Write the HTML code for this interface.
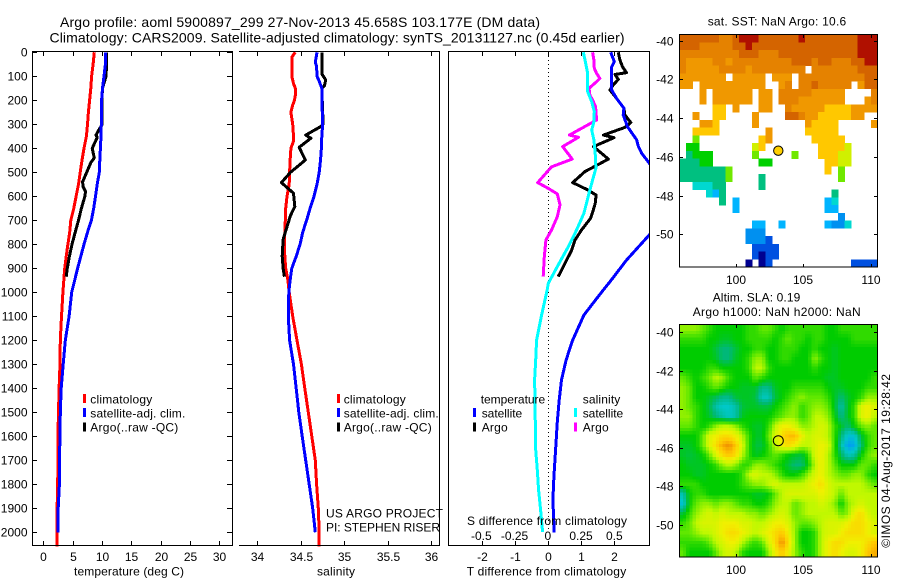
<!DOCTYPE html>
<html lang="en">
<head>
<meta charset="utf-8">
<title>Argo profile chart</title>
<style>
html,body{margin:0;padding:0;background:#fff;}
svg{display:block;}
text{font-family:"Liberation Sans",sans-serif;font-size:12px;fill:#000;}
</style>
</head>
<body>
<svg id="chart" xmlns="http://www.w3.org/2000/svg" width="900" height="580" viewBox="0 0 900 580">
<defs>
<clipPath id="clip-diff"><rect x="449" y="52" width="200" height="493"/></clipPath>
<clipPath id="clip-sst"><rect x="679.5" y="34.5" width="198" height="232.5"/></clipPath>
<clipPath id="clip-sla"><rect x="679.5" y="324.5" width="198" height="232.5"/></clipPath>
</defs>
<rect width="900" height="580" fill="#fff"/>

<text x="60" y="27" textLength="480" font-size="14" style="font-size:14px">Argo profile: aoml 5900897_299 27-Nov-2013 45.658S 103.177E (DM data)</text>
<text x="49.5" y="42.7" textLength="575" style="font-size:14px">Climatology: CARS2009. Satellite-adjusted climatology: synTS_20131127.nc (0.45d earlier)</text>

<g id="sst-cells" clip-path="url(#clip-sst)"></g>
<g id="sla-cells" clip-path="url(#clip-sla)"></g>

<g id="temp-lines"></g>
<g id="sal-lines"></g>
<line x1="548.5" y1="52" x2="548.5" y2="530" stroke="#000" stroke-width="1" stroke-dasharray="1 3"/>
<g id="diff-lines" clip-path="url(#clip-diff)"></g>

<g fill="none" stroke="#000" stroke-width="1" shape-rendering="crispEdges">
<path d="M32.5 51.5H232.5V545.5H32.5Z"/>
<path d="M239 51.5H439.5V545.5H239"/>
<path d="M448.5 51.5H649.5V545.5H448.5Z"/>
<path d="M679.5 34.5H877.5V267H679.5Z"/>
<path d="M679.5 324.5H877.5V557H679.5Z"/>
</g>
<g id="axes"></g>

<text x="74" y="575.7" textLength="110">temperature (deg C)</text>
<text x="317" y="575.7" textLength="38">salinity</text>
<text x="466.7" y="575.7" textLength="159.5">T difference from climatology</text>
<text x="467" y="525" textLength="160">S difference from climatology</text>

<g>
<rect x="83" y="394" width="3" height="9" fill="#f00"/>
<rect x="83" y="408" width="3" height="9" fill="#00f"/>
<rect x="83" y="422.5" width="3" height="9" fill="#000"/>
<text x="90.3" y="403.3" textLength="62">climatology</text>
<text x="90.3" y="417.3" textLength="95">satellite-adj. clim.</text>
<text x="90.3" y="431.3" textLength="88">Argo(..raw -QC)</text>
</g>
<g>
<rect x="337" y="394" width="3" height="9" fill="#f00"/>
<rect x="337" y="408" width="3" height="9" fill="#00f"/>
<rect x="337" y="422.5" width="3" height="9" fill="#000"/>
<text x="343.7" y="403.3" textLength="62">climatology</text>
<text x="343.7" y="417.3" textLength="95">satellite-adj. clim.</text>
<text x="343.7" y="431.3" textLength="88">Argo(..raw -QC)</text>
</g>
<text x="326" y="517.3" textLength="117">US ARGO PROJECT</text>
<text x="326" y="531.7" textLength="114">PI: STEPHEN RISER</text>

<g>
<text x="480.7" y="403.3" textLength="64.5">temperature</text>
<rect x="473" y="408" width="3" height="9" fill="#00f"/>
<rect x="473" y="422.5" width="3" height="9" fill="#000"/>
<text x="481.7" y="417.3" textLength="40.5">satellite</text>
<text x="481.7" y="431.3" textLength="26">Argo</text>
<text x="582.7" y="403.3" textLength="37.6">salinity</text>
<rect x="574" y="408" width="3" height="9" fill="#0ff"/>
<rect x="574" y="422.5" width="3" height="9" fill="#f0f"/>
<text x="582.7" y="417.3" textLength="40.5">satellite</text>
<text x="582.7" y="431.3" textLength="26">Argo</text>
</g>

<text x="707.7" y="25.7" textLength="138.5">sat. SST: NaN Argo: 10.6</text>
<text x="712.7" y="301.7" textLength="87.6">Altim. SLA: 0.19</text>
<text x="692.7" y="316" textLength="168">Argo h1000: NaN h2000: NaN</text>
<circle cx="778.3" cy="150.7" r="4.7" fill="#ffd000" stroke="#000" stroke-width="1"/>
<circle cx="778.3" cy="440.7" r="5" fill="none" stroke="#000" stroke-width="1"/>
<text transform="translate(890 547.7) rotate(-90)" textLength="173.7">©IMOS 04-Aug-2017 19:28:42</text>
</svg>

<script>
// ---- profile data ----
const tempClimDepths = [0,50,100,150,200,250,300,350,400,450,500,550,600,650,700,750,800,850,900,950,1000,1100,1200,1300,1400,1500,1600,1700,1800,1900,2000,2060];
const tempClimValues = [8.7,8.5,8.25,8.1,7.9,7.7,7.55,7.35,6.95,6.6,6.3,6.0,5.6,5.2,4.7,4.5,4.2,3.9,3.65,3.5,3.35,3.1,2.9,2.85,2.7,2.6,2.5,2.5,2.45,2.35,2.35,2.35];
const tempSatDepths = [0,50,100,150,200,250,300,350,400,450,500,550,600,650,700,750,800,850,900,950,1000,1100,1200,1300,1400,1500,1600,1700,1800,1900,2000];
const tempSatValues = [10.6,10.6,10.35,10.1,9.95,9.9,9.9,9.85,9.75,9.65,9.55,9.2,8.9,8.6,8.2,7.55,6.95,6.4,5.85,5.35,4.85,4.4,3.75,3.4,3.05,2.9,2.85,2.75,2.75,2.55,2.5];
const tempArgoDepths = [0,50,100,150,200,250,300,320,345,355,400,440,460,500,540,560,580,600,650,700,750,800,850,900,935];
const tempArgoValues = [10.8,10.8,10.7,10.1,10.0,10.05,10.05,9.55,9.0,9.2,8.35,8.7,8.1,7.4,6.7,6.8,7.2,7.1,6.5,6.0,5.45,4.9,4.45,4.1,3.9];

const salClimDepths = [0,20,50,100,130,150,180,200,220,250,300,350,370,400,450,500,550,600,650,700,750,800,850,900,950,1000,1100,1200,1300,1400,1500,1600,1700,1800,1900,2000,2060];
const salClimValues = [34.44,34.4,34.4,34.4,34.42,34.44,34.44,34.43,34.41,34.39,34.41,34.42,34.42,34.39,34.38,34.375,34.37,34.345,34.33,34.325,34.32,34.315,34.32,34.33,34.355,34.37,34.41,34.46,34.51,34.55,34.59,34.63,34.67,34.685,34.705,34.715,34.715];
const salSatDepths = [0,20,40,60,100,120,150,200,250,300,350,400,450,500,550,600,650,700,750,800,850,900,950,1000,1100,1200,1300,1400,1500,1600,1700,1800,1900,2000];
const salSatValues = [34.69,34.68,34.67,34.685,34.69,34.715,34.745,34.745,34.75,34.755,34.745,34.74,34.73,34.715,34.69,34.655,34.61,34.57,34.525,34.495,34.45,34.4,34.38,34.365,34.36,34.375,34.42,34.45,34.48,34.52,34.56,34.6,34.64,34.67];
const salArgoDepths = [0,50,90,115,140,150,300,310,345,358,396,449,500,543,587,643,680,720,780,850,900,935];
const salArgoValues = [34.745,34.745,34.745,34.79,34.775,34.745,34.76,34.73,34.56,34.62,34.485,34.555,34.385,34.28,34.42,34.435,34.385,34.35,34.3,34.29,34.3,34.315];

const diffTSatDepths = [0,39,60,157,192,233,261,310,365,393,421,462,500,600,700,761,866,956,990,1032,1095,1199,1282,1365,1449,1545,1656,1768,1865,2000];
const diffTSatValues = [1.89,2.0,1.92,1.92,2.07,2.29,2.27,2.4,2.68,2.73,2.83,3.06,3.25,3.3,3.4,3.06,2.37,1.87,1.67,1.43,1.08,0.74,0.54,0.4,0.33,0.27,0.22,0.17,0.14,0.18];
const diffTArgoDepths = [0,32,60,85,92,113,136,157,192,233,261,293,313,345,356,393,445,497,543,574,595,630,664,692,740,782,824,935];
const diffTArgoValues = [2.12,2.17,2.25,2.37,2.02,2.12,1.97,1.87,2.07,2.29,2.32,2.5,2.32,1.67,1.99,1.37,1.82,1.11,0.74,1.21,1.45,1.42,1.35,1.28,1.01,0.81,0.71,0.30];
const diffSSatDepths = [0,32,88,164,206,247,289,324,365,421,483,532,588,671,740,810,893,963,990,1095,1199,1282,1365,1449,1546,1657,1740,1824,1907,1999];
const diffSSatValues = [0.263,0.276,0.296,0.296,0.326,0.346,0.343,0.326,0.343,0.353,0.358,0.333,0.306,0.268,0.213,0.15,0.068,0,-0.008,-0.05,-0.088,-0.095,-0.103,-0.1,-0.098,-0.095,-0.083,-0.073,-0.058,-0.043];
const diffSArgoDepths = [0,32,67,88,109,129,150,178,199,227,282,313,345,354,393,445,477,504,543,567,590,636,685,740,782,852,935];
const diffSArgoValues = [0.333,0.343,0.346,0.363,0.388,0.35,0.306,0.313,0.333,0.356,0.363,0.263,0.158,0.226,0.108,0.18,0.025,-0.018,-0.08,0,0.068,0.088,0.068,0.025,-0.018,-0.03,-0.038];

// ---- tick labels ----
const depthTicks = [0,100,200,300,400,500,600,700,800,900,1000,1100,1200,1300,1400,1500,1600,1700,1800,1900,2000];
const tempTicks = [0,5,10,15,20,25,30];
const salTicks = [34,34.5,35,35.5,36];
const diffTTicks = [-2,-1,0,1,2];
const diffSTicks = [-0.5,-0.25,0,0.25,0.5];
const lonTicks = [100,105,110];
const latTicks = [-40,-42,-44,-46,-48,-50];

// ---- gridded map values: colour levels, null = no data ----
const _ = null;
const sstGrid = [
[12,12,12,12,12,12,11,11,12,13,13,13,12,12,12,12,12,12,13,12,12,12,12,12,12,12,12,13,13,13],
[12,12,12,11,11,11,11,11,12,12,13,12,12,12,12,12,12,12,12,12,12,12,12,12,12,12,12,13,13,13],
[11,11,11,11,11,11,11,11,11,12,12,12,11,11,11,12,12,12,12,12,12,12,12,12,12,12,12,13,13,13],
[11,10,10,10,10,11,11,10,11,11,11,11,11,11,11,11,11,12,12,12,11,12,12,11,11,11,12,12,13,13],
[11,10,10,10,10,10,11,11,11,11,10,11,11,11,11,11,11,11,11,_,11,11,11,11,11,11,11,12,12,12],
[10,10,10,10,10,10,10,_,10,10,10,10,10,_,10,10,10,_,11,11,11,11,11,11,11,11,11,11,12,12],
[10,10,_,10,10,10,10,10,10,10,10,10,10,_,_,10,11,_,11,11,12,11,11,11,11,11,_,10,12,12],
[_,_,_,10,_,10,10,10,10,10,10,_,10,10,_,11,11,11,11,11,10,10,10,10,10,_,_,_,_,11],
[_,_,_,10,_,10,10,10,10,10,10,_,10,10,_,11,11,11,10,10,10,10,10,10,10,_,_,_,10,11],
[_,_,_,_,_,9,9,_,10,_,_,_,10,10,_,_,11,10,10,10,10,10,9,9,9,9,10,10,10,10],
[_,_,10,_,_,9,9,_,_,_,_,10,_,_,_,_,12,12,11,10,10,9,9,9,9,9,10,10,_,_],
[_,_,_,10,10,9,_,_,_,_,_,10,_,_,_,_,_,_,_,10,9,9,9,9,_,_,_,_,_,10],
[_,_,9,9,9,9,_,_,_,_,_,_,_,10,_,_,_,_,_,9,9,9,9,9,_,_,_,_,_,_],
[_,_,7,_,_,_,_,_,_,_,_,_,9,10,_,_,_,_,_,_,9,9,9,9,9,_,_,_,_,_],
[_,6,6,_,_,_,_,_,_,_,_,8,9,_,_,_,_,_,_,_,_,9,9,9,9,8,_,_,_,_],
[_,5,6,6,6,_,_,_,_,_,_,7,_,_,_,_,_,7,_,_,_,9,9,9,8,8,_,_,_,_],
[5,5,5,6,6,_,_,_,_,_,_,_,6,6,_,_,_,_,_,_,_,_,9,9,8,8,_,_,_,_],
[5,5,5,5,5,5,5,7,_,_,_,_,_,_,_,_,_,_,_,_,_,_,9,_,7,_,_,_,_,_],
[5,5,5,5,5,5,5,7,_,_,_,_,5,_,_,_,_,_,_,_,_,_,_,_,7,_,_,_,_,_],
[_,_,4,4,4,5,5,_,_,_,_,_,5,_,_,_,_,_,_,_,_,_,_,_,_,_,_,_,_,_],
[_,_,_,_,4,3,5,_,_,_,_,_,_,_,_,_,_,_,_,_,_,_,_,5,_,_,_,_,_,_],
[_,_,_,_,_,_,5,_,3,_,_,_,_,_,_,_,_,_,_,_,_,_,3,4,_,_,_,_,_,_],
[_,_,_,_,_,_,_,_,3,_,_,_,_,_,_,_,_,_,_,_,_,_,3,3,_,_,_,_,_,_],
[_,_,_,_,_,_,_,_,_,_,_,_,_,_,_,_,_,_,_,_,_,_,_,_,2,_,_,_,_,_],
[_,_,_,_,_,_,_,_,_,_,_,3,3,_,_,3,_,_,_,_,_,_,3,2,2,4,_,_,_,_],
[_,_,_,_,_,_,_,_,_,_,2,2,2,_,_,_,_,_,_,_,_,_,_,_,_,_,_,_,_,_],
[_,_,_,_,_,_,_,_,_,_,1.5,1.5,1.5,1,_,_,_,_,_,_,_,_,_,_,_,_,_,_,_,_],
[_,_,_,_,_,_,_,_,_,_,_,1,1,1,1,_,_,_,_,_,_,_,_,_,_,_,_,_,_,_],
[_,_,_,_,_,_,_,_,_,_,_,1,0,1,1,_,_,_,_,_,_,_,_,_,_,_,_,_,_,_],
[_,_,_,_,_,_,_,_,_,_,0,_,0,0.5,_,_,_,_,_,_,_,_,_,_,_,_,1,1,0.5,1]
];
const slaGrid = [
[4.5,4.5,4.5,4,3.5,3,3,3,3,3,3.5,3.5,4,4,3.5,3,3.5,3.5,3.5,3.5,3.5,3.5,3,3,3.5,3.5,3.5,3.5,3.5,3.5],
[3.5,3.5,3.5,3.5,3,3,2.7,2.7,3,3,3.5,3.5,3.5,3.5,3,3.5,4,3.5,3.5,3,3.5,3.5,3,3,3,3,3.5,3.5,3.5,3.5],
[3,3,3,3,3,2.5,2,2,2.5,3,3,3.5,3.5,3,3,3.5,3.5,3.5,3,3,3.5,3,3,2.7,3,3,3,3,3,3],
[3,3,3,3,3,2.7,2,2,2.7,3,3.5,4.5,4.5,3,3,3.5,3.5,3,3,3,4.5,3.5,3,2.7,3,3,3,3,3,3],
[3,3,3,3,3.5,3.5,3,3,3,3,3.5,5,5,3.5,3,3,3,3,3,3,3.5,3,3,2.7,3,3,3,3,3,3],
[4,3.5,3,3.5,4,5,4.5,3.5,3,3,3,4,3.5,3,3,3,3,3,3,3,3,3,2.7,2.7,3,3,3,3,3,3.5],
[4.5,4,3,3,3.5,4,3.5,3,3,2.7,2.7,2.7,1.8,1.8,2.7,3,3,3.5,3.5,3.5,3.5,3.5,3,2.7,2.7,3,3,3,3.5,3.5],
[4.5,4,3,3,2.7,2.3,1.8,1.8,2.5,2.7,2.7,2.5,1.2,1.2,2.5,3,3.5,4,4.5,4,4,4,3.5,2.7,2,2.7,3,3.5,4.5,4.5],
[4.5,4,3.5,3,2.5,1.4,1,1,1.4,2.5,2.7,2.7,2.5,2.5,3,3.5,4,4.5,3.5,4,4.5,4.5,4,2.7,1.4,2.7,3.5,5.5,6,5.5],
[4.5,4.5,3.5,3,2.7,2,1.5,1.1,1.4,2.7,3,3,3,3,3.5,4,4.5,4.5,3.5,4,5,5,4.5,3,1.8,2.7,3.5,5.5,6,5],
[4,4,3.5,3,3.5,4.5,5,5,4.5,3.5,3,2.7,2.7,3.5,5,6,6,5.5,4.5,4.5,5,5.5,5,3.5,2.7,2,3,4,4.5,4],
[3,3,3,4,5.5,6,6.5,6.5,6,5,3.5,2.7,2.7,4,5.5,6.5,7.2,7.2,6,5,5.5,5.5,5,3.5,2,0.8,0.8,2.5,3.5,4],
[2.7,2.7,3,4,5.5,6.5,7.5,8,7,5.5,3.5,2.5,2.5,3.5,5,6,6.5,6,5,5,5.5,6,5.5,3.5,1.5,0,0.2,2,3.5,4],
[2.7,2.5,2.7,3,4,5.5,6.5,7,6.5,5,3.5,2.7,3,3.5,4,3.5,3,2.7,2.5,3.5,5.5,6,5,3.5,2.3,1.2,1.5,3,4,4.5],
[3,2.7,2.7,2.7,3,3.5,4.5,5,4.5,3.5,3.5,4.5,4.5,4,3.5,3,2.5,2,2,3,5,6,5,4,3,3,3,4,4,3.5],
[3,3,2.7,2.7,3,3,3,3,3,3.5,5,5.5,5,5,4.5,3.5,3,3,3.5,4.5,5.5,6,5,4.5,4,4,4.5,4.5,3.5,3],
[3.5,3.5,3.5,3,3,3,3,3,3,3.5,4,4.5,4.5,5,5.5,5,5,5,5,5.5,6,6.5,5.5,5,5,5,5,5,4.5,4],
[1.3,3,3.5,3.5,3,3,3,3,3,3,3,2.7,2.7,3,4,5,5.5,5.5,5.5,5.5,5.5,6,5.5,5,4,5,5,5,5,5],
[0.8,3,4,4.5,4.5,4,4.5,4.5,4,3.5,3.5,3,3,3.5,4.5,5,5,4,4.5,5,5,5.5,5,4.5,3,4.5,5,5.5,5,5],
[2.5,3.5,4.5,5,5.5,5,5.5,5,5,5,4.5,4.5,4,4.5,5,5.5,5,4,4.5,5,5,5,5,5,4,4.5,6,6.5,5.5,5],
[3.5,4,5,5.5,5.5,5.5,6,6,6,5.5,5.5,5,5,5.5,6,6,5.5,4.5,4,4,4.5,5,5.5,5.5,5.5,6,6.5,6.5,6,5.5],
[4,4,4.5,5,5,5.5,6,6.5,6.5,6,5.5,5,5.5,6,6.5,7,6,4.5,3,3,3.5,5,5.5,5.5,6,6.5,6.5,6.5,6,5.5],
[3.5,3.5,3.5,3.5,4,5,5.5,6,6,5,4,3.5,4,5.5,6.5,8,6.5,4.5,3,3,3.5,5,6,6.5,6.5,6,6,6,6.5,7],
[4,3,3,3,3,4,5,5.5,5,3.5,3,3,3,4.5,6,7,6,4.5,3.5,3,3.5,5,6,6.5,6,5.5,5.5,6,7,7.5]
];

const SVGNS = 'http://www.w3.org/2000/svg';
const sstColors = ['#000090','#0050e0','#0090f0','#00b4ff','#00d8d0','#00c080','#00d000','#70e800','#d0f000','#ffc800','#f09800','#e58200','#d46400','#b01000'];
const slaColors = [[0,160,240],[0,200,200],[0,184,120],[0,204,0],[96,232,0],[192,248,0],[240,240,0],[255,200,0],[240,144,0]];

function yDepth(d){ return 52.3 + 0.24 * d; }
function xTemp(t){ return 43.3 + 5.86 * t; }
function xSal(s){ return 257 + 87 * (s - 34); }
function xDiffT(t){ return 548.3 + 33 * t; }
function xDiffS(s){ return 548.3 + 133 * s; }
function xLon(l){ return 735.7 + 13.53 * (l - 100); }
function ySstLat(l){ return 40.7 + 19.36 * (-40 - l); }
function ySlaLat(l){ return 332 + 19.27 * (-40 - l); }

function drawLine(parentId, depths, values, xFn, color, name){
  const el = document.createElementNS(SVGNS, 'polyline');
  
  
  el.setAttribute('points', depths.map((d, i) => xFn(values[i]).toFixed(1) + ',' + yDepth(d).toFixed(1)).join(' '));
  el.setAttribute('fill', 'none');
  el.setAttribute('stroke', color);
  el.setAttribute('stroke-width', '3');
  el.setAttribute('stroke-linejoin', 'round');
  el.setAttribute('shape-rendering', 'crispEdges');
  document.getElementById(parentId).appendChild(el);
}

drawLine('temp-lines', tempClimDepths, tempClimValues, xTemp, '#f00', 'temperature-climatology-line');
drawLine('temp-lines', tempArgoDepths, tempArgoValues, xTemp, '#000', 'temperature-argo-line');
drawLine('temp-lines', tempSatDepths, tempSatValues, xTemp, '#00f', 'temperature-satellite-line');
drawLine('sal-lines', salClimDepths, salClimValues, xSal, '#f00', 'salinity-climatology-line');
drawLine('sal-lines', salArgoDepths, salArgoValues, xSal, '#000', 'salinity-argo-line');
drawLine('sal-lines', salSatDepths, salSatValues, xSal, '#00f', 'salinity-satellite-line');
drawLine('diff-lines', diffTArgoDepths, diffTArgoValues, xDiffT, '#000', 'difference-t-argo-line');
drawLine('diff-lines', diffTSatDepths, diffTSatValues, xDiffT, '#00f', 'difference-t-satellite-line');
drawLine('diff-lines', diffSArgoDepths, diffSArgoValues, xDiffS, '#f0f', 'difference-s-argo-line');
drawLine('diff-lines', diffSSatDepths, diffSSatValues, xDiffS, '#0ff', 'difference-s-satellite-line');

const axes = document.getElementById('axes');
function tick(x1, y1, x2, y2){
  const el = document.createElementNS(SVGNS, 'line');
  
  
  el.setAttribute('x1', x1);
  el.setAttribute('y1', y1);
  el.setAttribute('x2', x2);
  el.setAttribute('y2', y2);
  el.setAttribute('stroke', '#000');
  el.setAttribute('stroke-width', '1');
  el.setAttribute('shape-rendering', 'crispEdges');
  axes.appendChild(el);
}
function label(x, y, str, anchor){
  const el = document.createElementNS(SVGNS, 'text');
  
  
  el.setAttribute('x', x);
  el.setAttribute('y', y);
  el.setAttribute('text-anchor', anchor);
  el.textContent = str;
  axes.appendChild(el);
}

depthTicks.forEach(d => {
  const y = Math.round(yDepth(d)) + 0.5;
  tick(32, y, 37, y);
  tick(227, y, 232, y);
  label(27.5, y + 4.2, String(d), 'end');
});
tempTicks.forEach(t => {
  const x = Math.round(xTemp(t)) + 0.5;
  tick(x, 52, x, 56);
  tick(x, 541, x, 545);
  label(x, 561, String(t), 'middle');
});
salTicks.forEach(s => {
  const x = Math.round(xSal(s)) + 0.5;
  tick(x, 52, x, 56);
  tick(x, 541, x, 545);
  label(x, 561, String(s), 'middle');
});
diffTTicks.forEach(t => {
  const x = Math.round(xDiffT(t)) + 0.5;
  tick(x, 52, x, 56);
  tick(x, 541, x, 545);
  label(x, 561, String(t), 'middle');
});
diffSTicks.forEach(s => {
  label(xDiffS(s) - 0.5, 540, String(s), 'middle');
});
lonTicks.forEach(l => {
  const x = Math.round(xLon(l)) + 0.5;
  tick(x, 35, x, 38);
  tick(x, 264, x, 267);
  tick(x, 325, x, 328);
  tick(x, 554, x, 557);
  label(x - 0.5, 284, String(l), 'middle');
  label(x - 0.5, 574, String(l), 'middle');
});
latTicks.forEach(l => {
  const y1 = Math.round(ySstLat(l)) + 0.5;
  const y2 = Math.round(ySlaLat(l)) + 0.5;
  tick(680, y1, 683, y1);
  tick(874, y1, 877, y1);
  tick(680, y2, 683, y2);
  tick(874, y2, 877, y2);
  label(673.5, y1 + 4.2, String(l), 'end');
  label(673.5, y2 + 4.2, String(l), 'end');
});

// SST map cells
const sstLayer = document.getElementById('sst-cells');
const sstCellW = 198 / sstGrid[0].length;
const sstCellH = 232.5 / sstGrid.length;
sstGrid.forEach((row, j) => {
  row.forEach((v, i) => {
    if (v === null) return;
    const el = document.createElementNS(SVGNS, 'rect');
    
    
    el.setAttribute('x', (679.5 + i * sstCellW).toFixed(2));
    el.setAttribute('y', (34.5 + j * sstCellH).toFixed(2));
    el.setAttribute('width', (sstCellW + 0.4).toFixed(2));
    el.setAttribute('height', (sstCellH + 0.4).toFixed(2));
    el.setAttribute('fill', sstColors[Math.max(0, Math.min(sstColors.length - 1, Math.round(v)))]);
    el.setAttribute('shape-rendering', 'crispEdges');
    sstLayer.appendChild(el);
  });
});

// SLA map cells: each grid value is shaded smoothly toward its neighbours
function slaColor(v){
  const c = Math.max(0, Math.min(slaColors.length - 1.001, v));
  const k = Math.floor(c);
  const f = c - k;
  const rgb = [0, 1, 2].map(n => Math.round(slaColors[k][n] + (slaColors[k + 1][n] - slaColors[k][n]) * f));
  return 'rgb(' + rgb.join(',') + ')';
}
function slaSample(fi, fj){
  const rows = slaGrid.length;
  const cols = slaGrid[0].length;
  const ci = Math.max(0, Math.min(cols - 1, fi));
  const cj = Math.max(0, Math.min(rows - 1, fj));
  const i0 = Math.floor(ci);
  const j0 = Math.floor(cj);
  const i1 = Math.min(cols - 1, i0 + 1);
  const j1 = Math.min(rows - 1, j0 + 1);
  const a = ci - i0;
  const b = cj - j0;
  return (slaGrid[j0][i0] * (1 - a) + slaGrid[j0][i1] * a) * (1 - b) +
         (slaGrid[j1][i0] * (1 - a) + slaGrid[j1][i1] * a) * b;
}
const slaLayer = document.getElementById('sla-cells');
const slaSubX = 2;
const slaSubY = 3;
const slaCols = slaGrid[0].length * slaSubX;
const slaRows = slaGrid.length * slaSubY;
const slaCellW = 198 / slaCols;
const slaCellH = 232.5 / slaRows;
for (let j = 0; j < slaRows; j++) {
  for (let i = 0; i < slaCols; i++) {
    const el = document.createElementNS(SVGNS, 'rect');
    
    
    el.setAttribute('x', (679.5 + i * slaCellW).toFixed(2));
    el.setAttribute('y', (324.5 + j * slaCellH).toFixed(2));
    el.setAttribute('width', (slaCellW + 0.4).toFixed(2));
    el.setAttribute('height', (slaCellH + 0.4).toFixed(2));
    el.setAttribute('fill', slaColor(slaSample((i + 0.5) / slaSubX - 0.5, (j + 0.5) / slaSubY - 0.5)));
    el.setAttribute('shape-rendering', 'crispEdges');
    slaLayer.appendChild(el);
  }
}
</script>
</body>
</html>
